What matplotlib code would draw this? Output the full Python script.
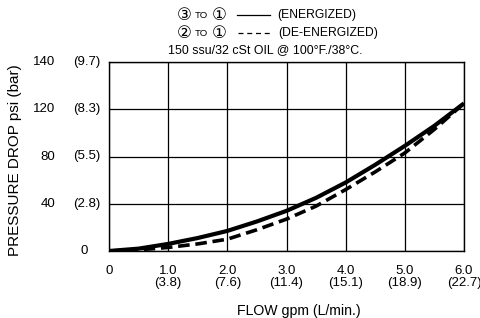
import matplotlib
matplotlib.use("Agg")
from matplotlib import pyplot as plt
from matplotlib import transforms

# flow in gpm, pressure drop in psi
flow = [0, 0.5, 1, 1.5, 2, 2.5, 3, 3.5, 4, 4.5, 5, 5.5, 6]
energized = [0, 2, 6, 11, 17, 25, 34, 45, 58, 73, 89, 106, 125]
de_energized = [0, 1, 3, 6, 10, 18, 27, 38, 52, 67, 83, 103, 125]

x_ticks = [0, 1, 2, 3, 4, 5, 6]
x_labels = ["0", "1.0\n(3.8)", "2.0\n(7.6)", "3.0\n(11.4)", "4.0\n(15.1)", "5.0\n(18.9)", "6.0\n(22.7)"]
y_ticks = [0, 40, 80, 120, 160]
y_psi = ["0", "40", "80", "120", "140"]
y_bar = ["", "(2.8)", "(5.5)", "(8.3)", "(9.7)"]

W, H = 481, 318
plt.rcParams['font.family'] = ['Liberation Sans', 'DejaVu Sans']
fig = plt.figure(figsize=(W / 100, H / 100), dpi=100)
ax = fig.add_axes([109 / W, 1 - 251 / H, (464 - 109) / W, (251 - 62) / H])

ax.plot(flow, energized, color='black', lw=3.0, solid_capstyle='butt', zorder=3)
ax.plot(flow, de_energized, color='black', lw=2.6, linestyle=(0, (3.2, 1.6)), zorder=3)

ax.set_xlim(0, 6)
ax.set_ylim(0, 160)
ax.set_xticks(x_ticks)
ax.set_yticks(y_ticks)
ax.set_xticklabels([])
ax.set_yticklabels([])
ax.tick_params(length=0)
ax.grid(True, color='black', lw=0.9)
for s in ax.spines.values():
    s.set_color('black')
    s.set_linewidth(1.0)

fs = 9.5
# y tick labels in two columns
ytr = transforms.blended_transform_factory(fig.transFigure, ax.transData)
for v, p, b in zip(y_ticks, y_psi, y_bar):
    if v == 0:
        ax.text(88 / W, v, p, transform=ytr, ha='right', va='center', fontsize=fs)
    else:
        ax.text(55 / W, v, p, transform=ytr, ha='right', va='center', fontsize=fs)
        ax.text(100 / W, v, b, transform=ytr, ha='right', va='center', fontsize=fs)

# x tick labels
xtr = transforms.blended_transform_factory(ax.transData, fig.transFigure)
for v, lab in zip(x_ticks, x_labels):
    ax.text(v, 1 - 265 / H, lab, transform=xtr, ha='center', va='top',
            fontsize=fs, linespacing=1.05)

fig.text(299 / W, 1 - 311 / H, "FLOW gpm (L/min.)", ha='center', va='center', fontsize=10.2)
fig.text(15 / W, 1 - 160 / H, "PRESSURE DROP psi (bar)", ha='center', va='center',
         rotation=90, fontsize=11)

# header / legend
hs = 8.7
def put(x, y, s, size=hs):
    fig.text(x / W, 1 - y / H, s, ha='left', va='center', fontsize=size)

for y in (15, 33):
    put(195, y, "TO", 6.8)
    put(212, y, "\u2460", 12)
put(177, 15, "\u2462", 12)
put(177, 33, "\u2461", 12)
fig.add_artist(plt.Line2D([237 / W, 270 / W], [1 - 15 / H, 1 - 15 / H], color='black', lw=0.9))
put(277, 15, "(ENERGIZED)")
fig.add_artist(plt.Line2D([238 / W, 270 / W], [1 - 33 / H, 1 - 33 / H], color='black', lw=0.9,
                          linestyle=(0, (4, 3))))
put(278, 33, "(DE-ENERGIZED)")
put(168, 50, "150 ssu/32 cSt OIL @ 100\u00b0F./38\u00b0C.", 8.9)

fig.savefig("out.png", dpi=100)
